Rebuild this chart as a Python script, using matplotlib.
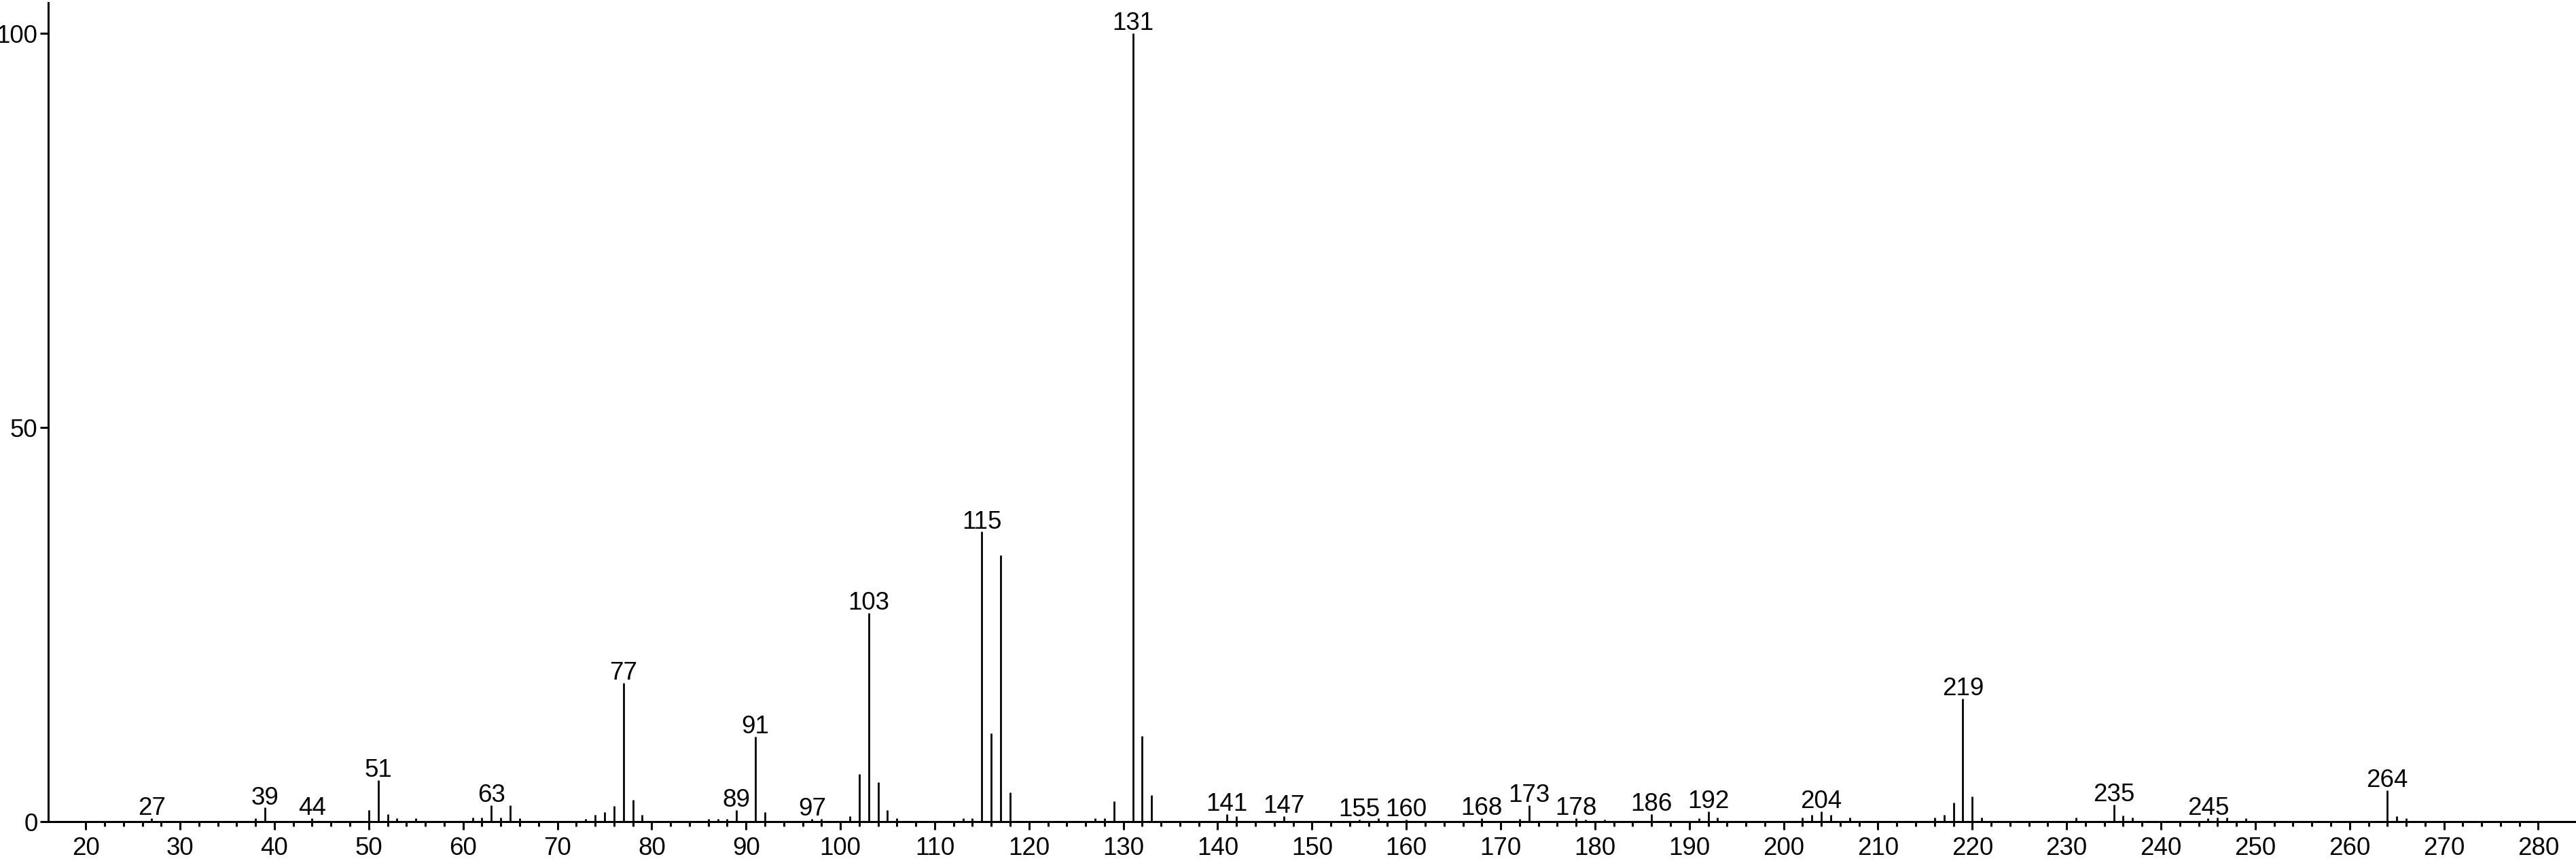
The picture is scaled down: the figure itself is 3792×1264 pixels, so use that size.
import numpy as np
import matplotlib.pyplot as plt

plt.rcParams['font.family'] = ['Liberation Sans', 'DejaVu Sans']

# Mass spectrum: m/z and relative intensity (%)
mz = [27, 38, 39, 44, 50, 51, 52, 53, 55,
      61, 62, 63, 64, 65, 66,
      73, 74, 75, 76, 77, 78, 79,
      86, 87, 88, 89, 91, 92, 97, 98,
      101, 102, 103, 104, 105, 106,
      113, 114, 115, 116, 117, 118,
      127, 128, 129, 131, 132, 133,
      141, 142, 147, 155, 157, 160,
      168, 172, 173, 178, 179, 181, 186,
      191, 192, 193, 202, 203, 204, 205, 207,
      216, 217, 218, 219, 220, 221,
      231, 235, 236, 237, 245, 246, 247, 249,
      264, 265, 266]
intensity = [0.46, 0.46, 1.8, 0.46, 1.5, 5.3, 1.0, 0.46, 0.46,
             0.5, 0.5, 2.1, 0.5, 2.1, 0.46,
             0.4, 0.9, 1.2, 2.0, 17.6, 2.8, 0.9,
             0.4, 0.4, 0.4, 1.5, 10.8, 1.2, 0.4, 0.4,
             0.7, 6.1, 26.5, 5.0, 1.5, 0.46,
             0.46, 0.46, 36.8, 11.2, 33.8, 3.7,
             0.46, 0.46, 2.6, 100.0, 10.9, 3.4,
             1.0, 0.7, 0.75, 0.3, 0.46, 0.3,
             0.46, 0.4, 2.1, 0.46, 0.3, 0.3, 1.0,
             0.46, 1.35, 0.57, 0.57, 0.86, 1.35, 0.86, 0.52,
             0.5, 0.86, 2.4, 15.6, 3.2, 0.57,
             0.57, 2.15, 0.8, 0.57, 0.46, 0.52, 0.5, 0.46,
             3.96, 0.75, 0.46]

# peaks that carry an m/z label
labeled = [27, 39, 44, 51, 63, 77, 89, 91, 97, 103, 115, 131, 141, 147,
           155, 160, 168, 173, 178, 186, 192, 204, 219, 235, 245, 264]

fig = plt.figure(figsize=(37.92, 12.64), dpi=100)
ax = fig.add_axes([0.01864, 0.04328, 0.98136, 0.9536])

ax.vlines(mz, 0, intensity, colors='black', linewidth=2.0)

peaks = dict(zip(mz, intensity))
for m in labeled:
    ax.annotate(str(m), (m, peaks[m]), xytext=(0, 3.5), textcoords='offset points',
                ha='center', va='baseline', fontsize=26.5, clip_on=False)

ax.set_xlim(16, 284)
ax.set_ylim(0, 103.9)
ax.set_xticks(np.arange(20, 281, 10))
ax.set_xticks(np.arange(20, 281, 2), minor=True)
ax.set_yticks([0, 50, 100])

for s in ['top', 'right']:
    ax.spines[s].set_visible(False)
for s in ['left', 'bottom']:
    ax.spines[s].set_linewidth(2.2)

ax.tick_params(axis='x', which='major', length=8.6, width=2.2, pad=7, labelsize=26.5)
ax.tick_params(axis='x', which='minor', length=5, width=2.2)
ax.tick_params(axis='y', length=9, width=2.2, pad=2, labelsize=26.5)

fig.savefig('out.png', dpi=100)
